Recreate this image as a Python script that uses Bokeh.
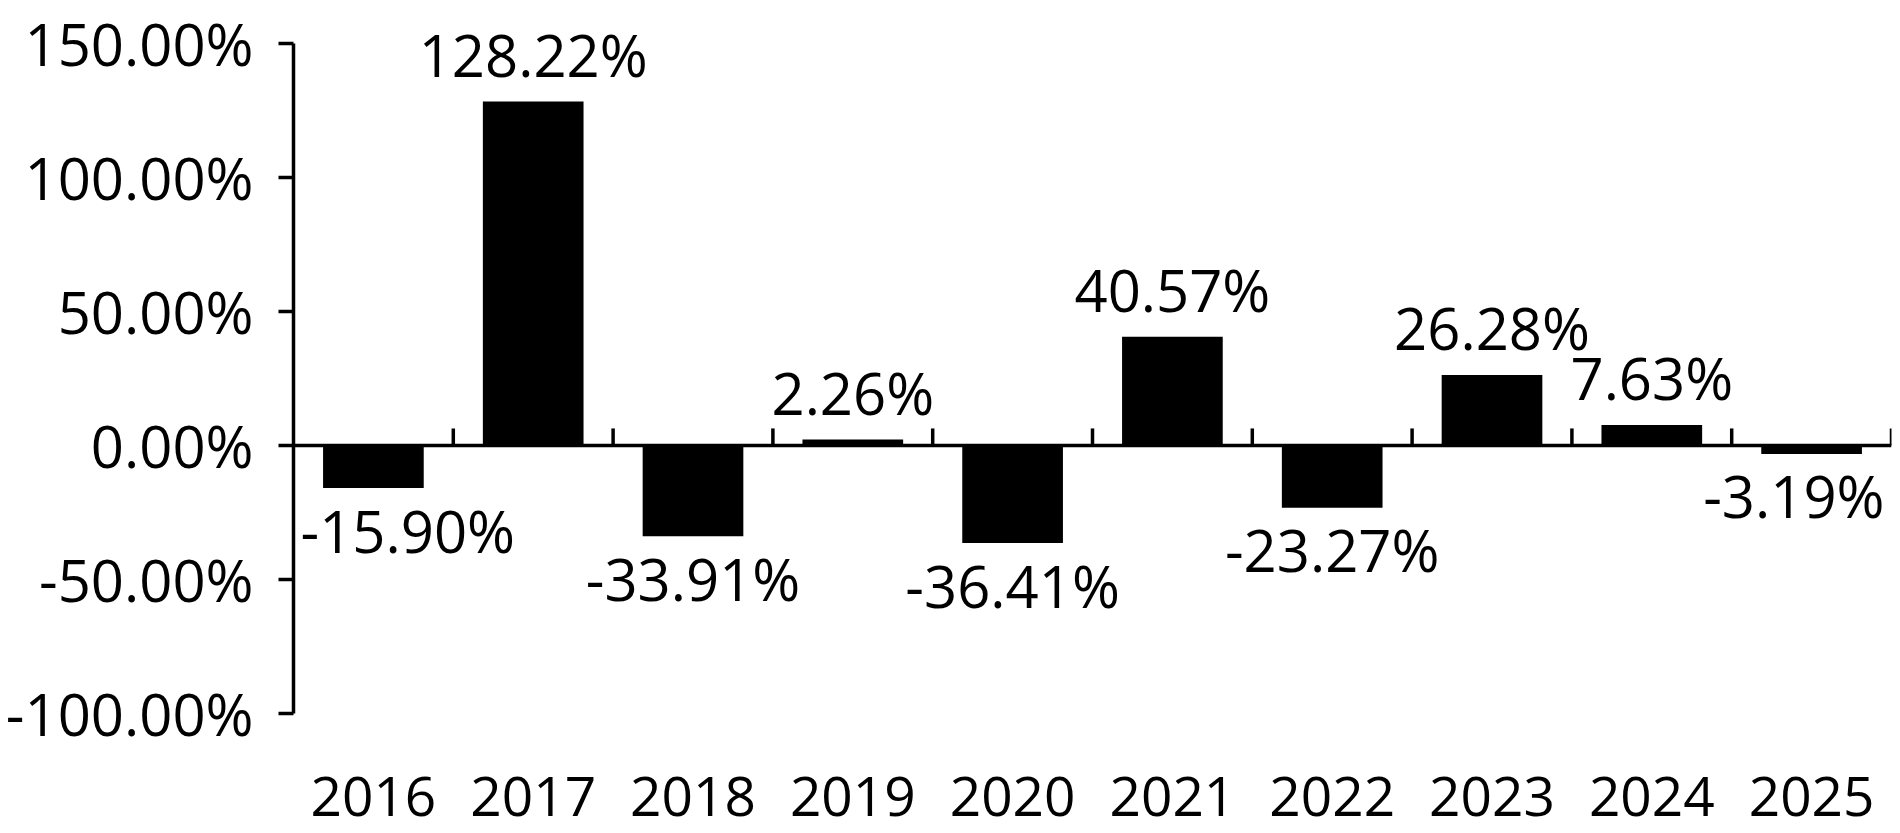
from bokeh.plotting import figure
from bokeh.models import (FactorRange, Range1d, FixedTicker, PrintfTickFormatter,
                          Span, ColumnDataSource)
from bokeh.core.properties import value
from bokeh.embed import file_html
from bokeh.resources import INLINE

# ---- data ----
years = ["2016", "2017", "2018", "2019", "2020", "2021", "2022", "2023", "2024", "2025"]
returns = [-15.90, 128.22, -33.91, 2.26, -36.41, 40.57, -23.27, 26.28, 7.63, -3.19]
y_ticks = [-100, -50, 0, 50, 100, 150]

# ---- styling / geometry ----
FONT = "Open Sans"
PX_PER_UNIT = 670.4 / 250.0     # vertical pixels per percentage point
TOP_TICK_PX = 42.7              # screen y of the top tick
FIG_H = 833
FRAME_W = 1598
LEFT = 293
y_top = y_ticks[-1] + TOP_TICK_PX / PX_PER_UNIT
y_bottom = y_top - FIG_H / PX_PER_UNIT
LW = 3.5

p = figure(x_range=FactorRange(*years, range_padding=0),
           y_range=Range1d(y_bottom, y_top),
           frame_width=FRAME_W, frame_height=FIG_H,
           min_border_left=LEFT, min_border_right=7,
           min_border_top=0, min_border_bottom=0,
           output_backend="svg", toolbar_location=None)
p.outline_line_color = None
p.xgrid.visible = False
p.ygrid.visible = False
p.background_fill_color = "white"
p.border_fill_color = "white"

# bars
p.vbar(x=years, top=returns, bottom=0, width=0.63, fill_color="black", line_color=None)

# zero line
p.add_layout(Span(location=0, dimension="width", line_color="black", line_width=LW))

# category boundary ticks on the zero line
n = len(years)
p.ray(x=list(range(1, n + 1)), y=[0] * n, length=17, length_units="screen",
      angle=1.5707963, line_color="black", line_width=LW)

# value labels
lab_x, lab_align, lab_xoff, lab_yoff = [], [], [], []
for i, v in enumerate(returns):
    if i == 0:
        lab_x.append(i); lab_align.append("left"); lab_xoff.append(7)
    elif i == n - 1:
        lab_x.append(i + 1); lab_align.append("right"); lab_xoff.append(-7)
    else:
        lab_x.append(i + 0.5); lab_align.append("center"); lab_xoff.append(0)
    lab_yoff.append(-47 if v >= 0 else 42)
src = ColumnDataSource(dict(x=lab_x, y=returns, t=[f"{v:.2f}%" for v in returns],
                            align=lab_align, xo=lab_xoff, yo=lab_yoff))
p.text(x="x", y="y", text="t", source=src, text_align="align", x_offset="xo", y_offset="yo",
       text_baseline="alphabetic", text_font=value(FONT), text_font_size="58px",
       text_color="black")

# category (year) labels under the chart
ysrc = ColumnDataSource(dict(x=years, y=[y_ticks[0]] * n, t=years))
p.text(x="x", y="y", text="t", source=ysrc, text_align="center", y_offset=83,
       text_baseline="alphabetic", text_font=value(FONT), text_font_size="55px",
       text_color="black")

# y axis
ya = p.yaxis[0]
ya.bounds = (y_ticks[0], y_ticks[-1])
ya.ticker = FixedTicker(ticks=y_ticks)
ya.formatter = PrintfTickFormatter(format="%.2f%%")
ya.axis_line_width = LW
ya.major_tick_line_width = LW
ya.major_tick_out = 15
ya.major_tick_in = 0
ya.minor_tick_line_color = None
ya.major_label_standoff = 25
ya.major_label_text_font = FONT
ya.major_label_text_font_size = "58px"
ya.major_label_text_color = "black"

p.xaxis.visible = False

open("out.html", "w").write(file_html(p, INLINE))
